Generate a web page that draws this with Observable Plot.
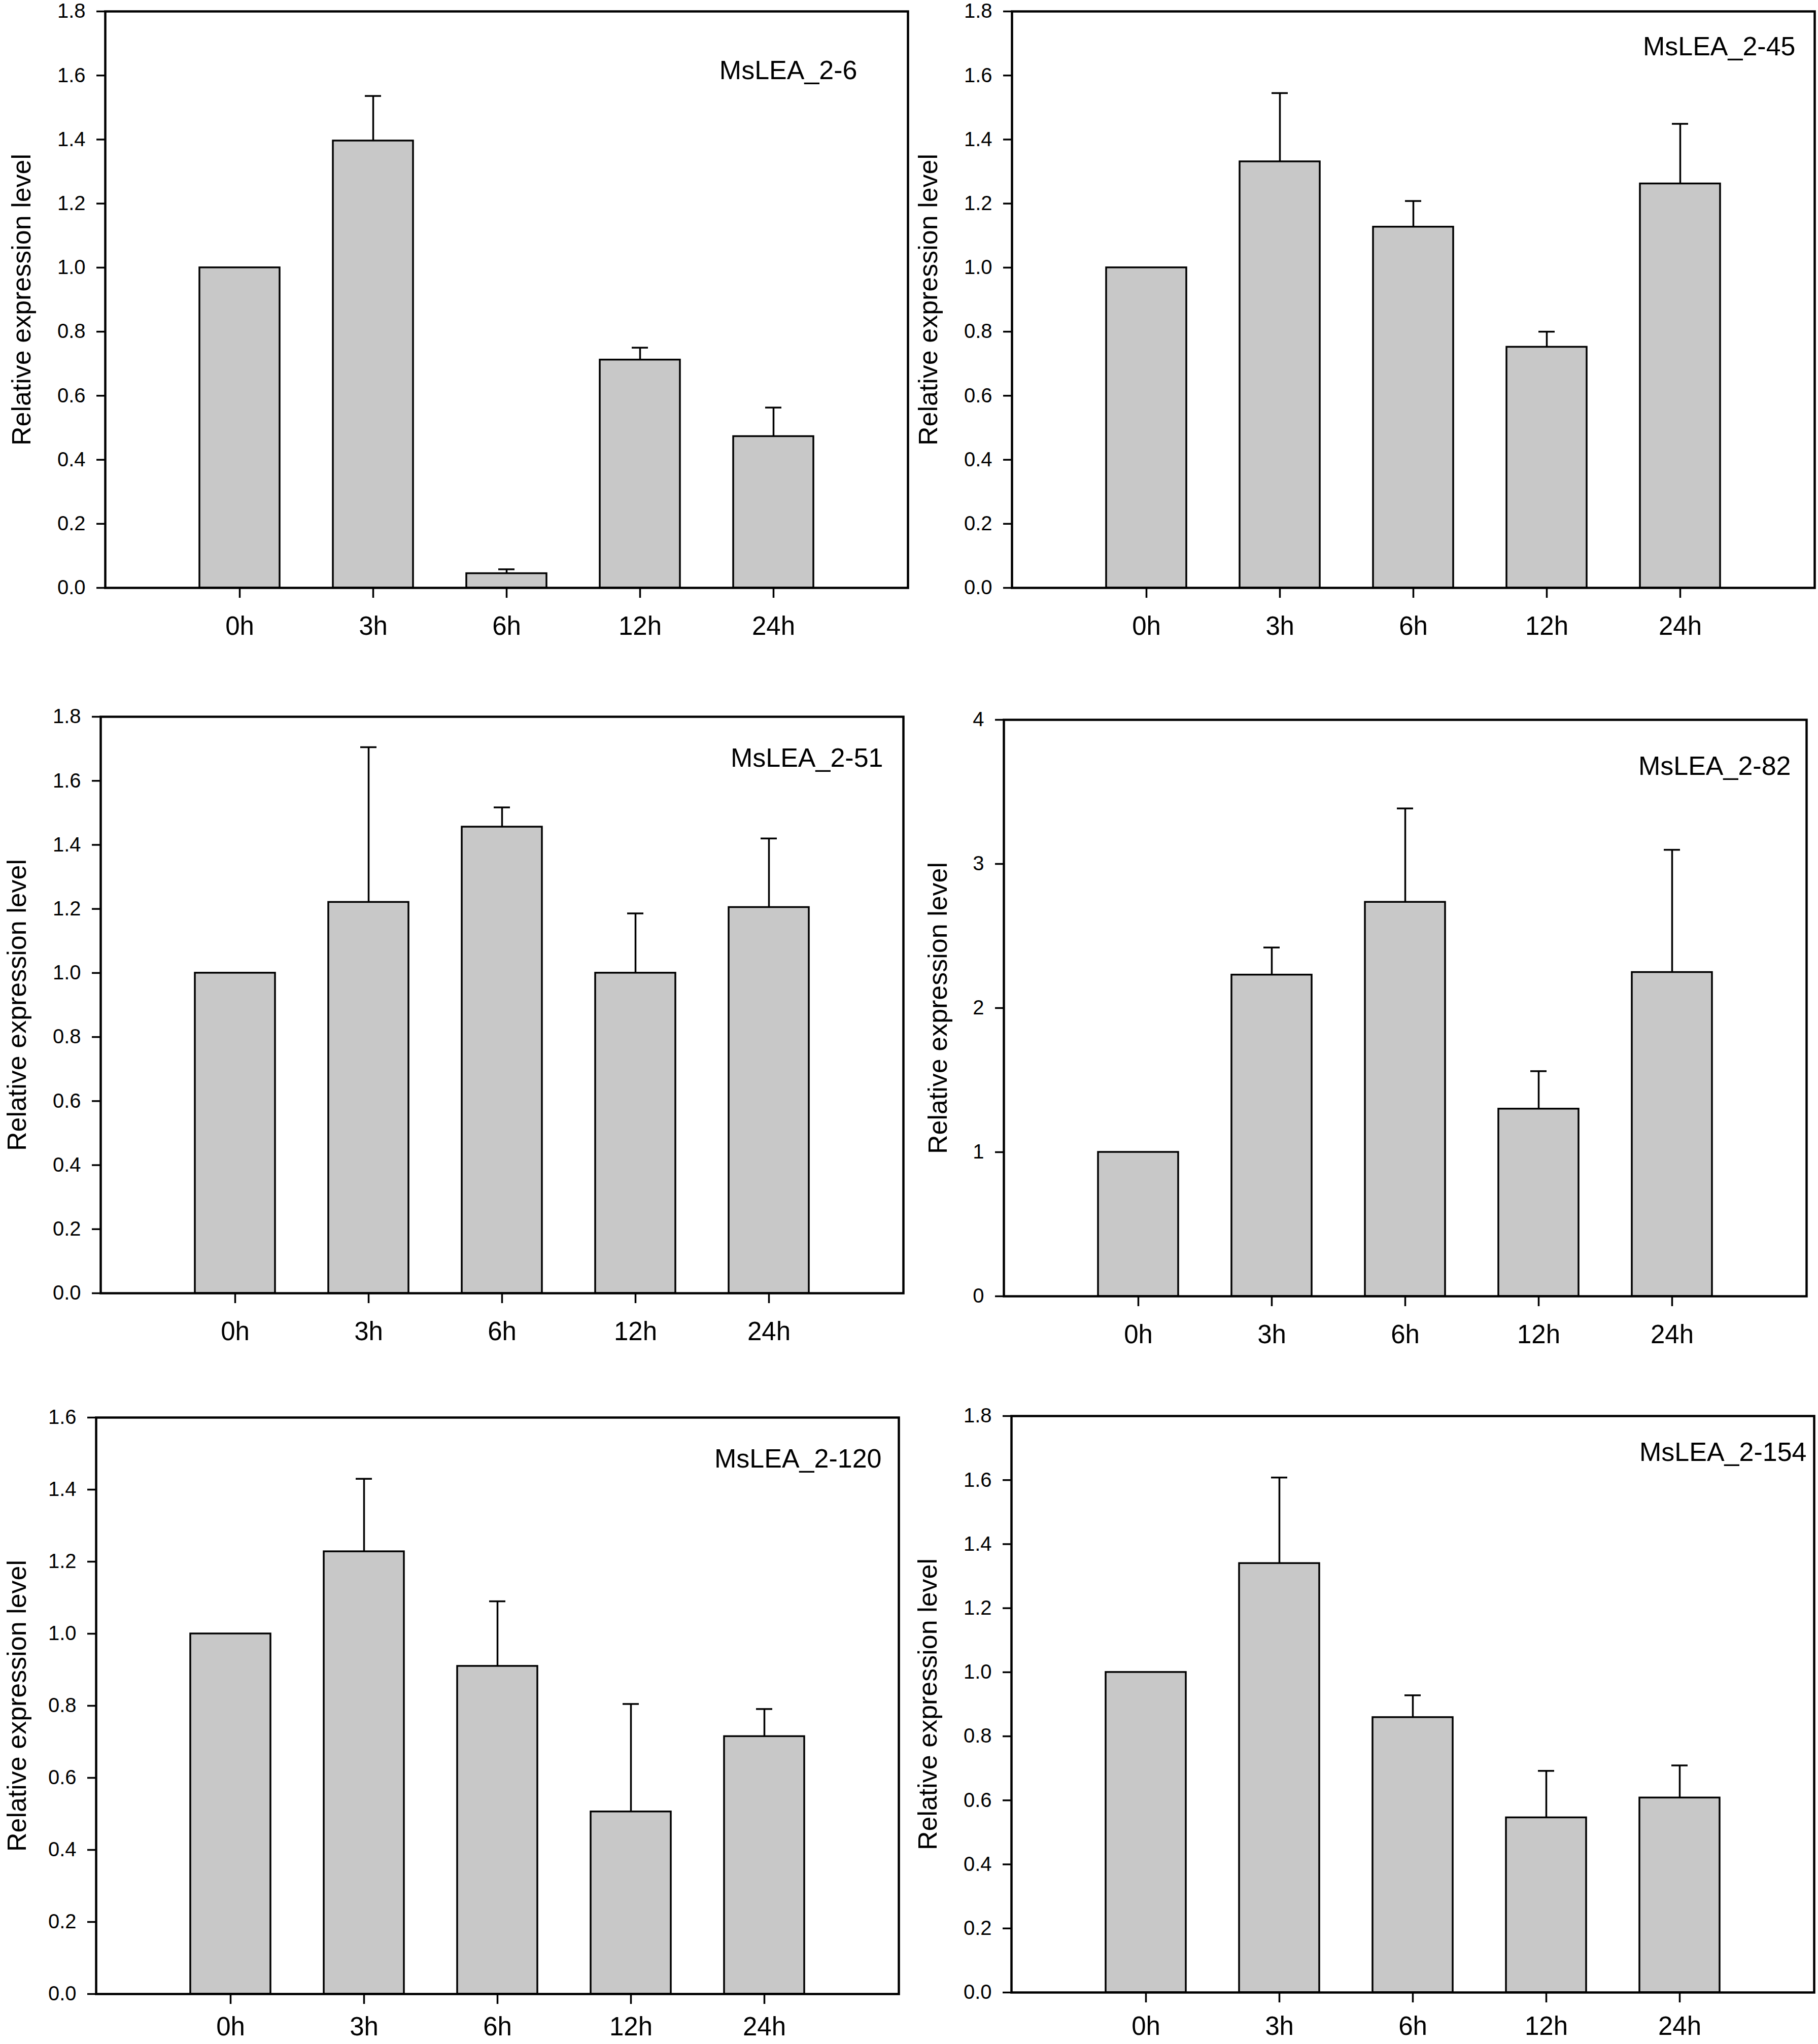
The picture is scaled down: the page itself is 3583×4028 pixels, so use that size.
<!DOCTYPE html>
<html>
<head>
<meta charset="utf-8">
<script src="https://cdn.jsdelivr.net/npm/d3@7"></script>
<script src="https://cdn.jsdelivr.net/npm/@observablehq/plot@0.6"></script>
<style>
html, body { margin: 0; padding: 0; background: #ffffff; }
#root { position: relative; width: 3583px; height: 4028px; overflow: hidden; background: #ffffff; }
#root svg { position: absolute; overflow: visible; }
</style>
</head>
<body>
<div id="root"></div>
<script>
// ---------- data ----------
const times = ["0h", "3h", "6h", "12h", "24h"];
const genes = ["MsLEA_2-6", "MsLEA_2-45", "MsLEA_2-51", "MsLEA_2-82", "MsLEA_2-120", "MsLEA_2-154"];
const yTitle = "Relative expression level";

const mean_2_6   = [1.0, 1.396, 0.045, 0.712, 0.473];
const se_2_6     = [0,   0.140, 0.013, 0.038, 0.090];
const mean_2_45  = [1.0, 1.331, 1.127, 0.752, 1.262];
const se_2_45    = [0,   0.214, 0.081, 0.048, 0.187];
const mean_2_51  = [1.0, 1.221, 1.456, 1.000, 1.205];
const se_2_51    = [0,   0.484, 0.061, 0.186, 0.215];
const mean_2_82  = [1.0, 2.230, 2.735, 1.300, 2.248];
const se_2_82    = [0,   0.190, 0.650, 0.262, 0.850];
const mean_2_120 = [1.0, 1.228, 0.910, 0.506, 0.715];
const se_2_120   = [0,   0.202, 0.180, 0.299, 0.076];
const mean_2_154 = [1.0, 1.340, 0.859, 0.546, 0.608];
const se_2_154   = [0,   0.268, 0.069, 0.146, 0.101];

const ticks18 = [0, 0.2, 0.4, 0.6, 0.8, 1.0, 1.2, 1.4, 1.6, 1.8];
const ticks16 = [0, 0.2, 0.4, 0.6, 0.8, 1.0, 1.2, 1.4, 1.6];
const ticks4  = [0, 1, 2, 3, 4];

const means = [mean_2_6, mean_2_45, mean_2_51, mean_2_82, mean_2_120, mean_2_154];
const ses   = [se_2_6, se_2_45, se_2_51, se_2_82, se_2_120, se_2_154];
const yTicks = [ticks18, ticks18, ticks18, ticks4, ticks16, ticks18];
const yFormats = [".1f", ".1f", ".1f", "d", ".1f", ".1f"];

// ---------- layout (styles / positions) ----------
const FONT = "'Liberation Sans', Arial, Helvetica, sans-serif";
const FW = 1582, FH = 1136;
const ML = 200, MT = 40, MR = 30, MB = 150;
const layout = [
  {left: 207,  top: 22,   lx: -100, ly: 117, tx: -164, xpad: 36},
  {left: 1994, top: 22,   lx: -38,  ly: 70,  tx: -164, xpad: 36},
  {left: 198,  top: 1412, lx: -40,  ly: 82,  tx: -164, xpad: 36},
  {left: 1978, top: 1418, lx: -31,  ly: 92,  tx: -129, xpad: 36},
  {left: 189,  top: 2793, lx: -34,  ly: 82,  tx: -155, xpad: 25},
  {left: 1993, top: 2790, lx: -15,  ly: 72,  tx: -164, xpad: 27}
];

const root = document.getElementById("root");

genes.forEach((gene, i) => {
  const lay = layout[i];
  const data = times.map((t, j) => ({
    time: t,
    mean: means[i][j],
    se: ses[i][j],
    upper: means[i][j] + ses[i][j]
  }));
  const err = data.filter(d => d.se > 0);
  const ymax = yTicks[i][yTicks[i].length - 1];

  const svg = Plot.plot({
    width: ML + FW + MR,
    height: MT + FH + MB,
    marginLeft: ML, marginRight: MR, marginTop: MT, marginBottom: MB,
    style: {fontFamily: FONT, background: "transparent", color: "black", overflow: "visible"},
    x: {type: "band", domain: times, paddingInner: 0.4, paddingOuter: 0.7},
    y: {domain: [0, ymax]},
    marks: [
      Plot.barY(data, {x: "time", y: "mean", fill: "#c8c8c8", stroke: "black", strokeWidth: 3.5}),
      Plot.ruleX(err, {x: "time", y1: "mean", y2: "upper", stroke: "black", strokeWidth: 3.5}),
      Plot.tickY(err, {x: "time", y: "upper", stroke: "black", strokeWidth: 3.5, insetLeft: 63, insetRight: 63}),
      Plot.frame({stroke: "black", strokeWidth: 4.5}),
      Plot.axisY({ticks: yTicks[i], tickFormat: d3.format(yFormats[i]), tickSize: 17, tickPadding: 22,
                  fontSize: 40, strokeWidth: 3.5, label: null}),
      Plot.axisX({tickSize: 20, tickPadding: lay.xpad, fontSize: 51, strokeWidth: 3.5, label: null}),
      Plot.text([gene], {text: d => d, frameAnchor: "top-right", dx: lay.lx, dy: lay.ly,
                         textAnchor: "end", lineAnchor: "middle", fontSize: 52, fill: "black"}),
      Plot.text([yTitle], {text: d => d, frameAnchor: "left", dx: lay.tx, rotate: -90,
                           lineAnchor: "middle", textAnchor: "middle", fontSize: 52, fill: "black"})
    ]
  });
  svg.style.left = (lay.left - ML) + "px";
  svg.style.top = (lay.top - MT) + "px";
  root.appendChild(svg);
});
</script>
</body>
</html>
